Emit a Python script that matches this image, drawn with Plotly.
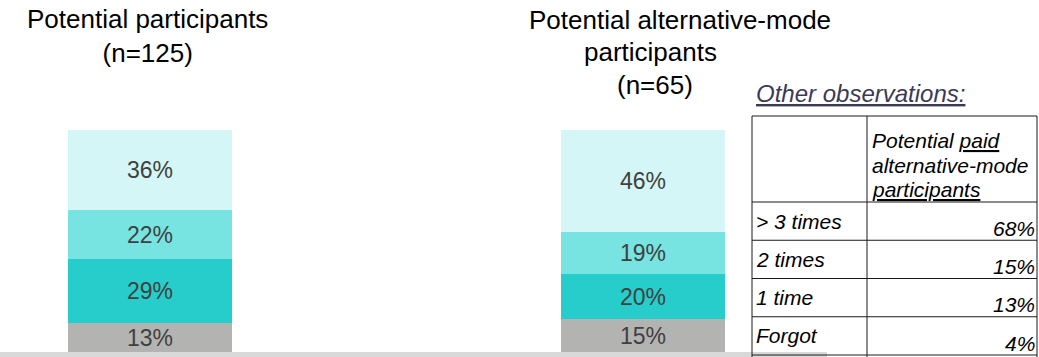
import plotly.graph_objects as go

# ---------------- data ----------------
groups = ["Potential participants", "Potential alternative-mode participants"]
segment_names = ["Forgot", "1 time", "2 times", "> 3 times"]  # bottom -> top
participants_vals = [13, 29, 22, 36]
alt_mode_vals = [15, 20, 19, 46]
segment_colors = ["#B3B4B2", "#26CDCA", "#77E4E2", "#D4F6F6"]

table_rows = ["> 3 times", "2 times", "1 time", "Forgot"]
table_vals = [68, 15, 13, 4]

W, H = 1039, 357
FONT = "Liberation Sans, Arial, sans-serif"

def px(x):
    return x / W

def py(y):
    return 1 - y / H

fig = go.Figure()
for i, name in enumerate(segment_names):
    vals = [participants_vals[i], alt_mode_vals[i]]
    fig.add_trace(go.Bar(
        x=[0, 1], y=vals, name=name,
        marker=dict(color=segment_colors[i], line=dict(width=0)),
        width=0.333,
        text=[f"{v}%" for v in vals],
        textposition="inside", insidetextanchor="middle", textangle=0,
        textfont=dict(family=FONT, size=23, color="#404040"),
        hoverinfo="skip", showlegend=False,
    ))

# pixel-based ranges: category 0 centred at x=150, 1 at x=643; y 0 at 352px, 100 at 130px
k_x = 493.0
x0 = -150 / k_x
x1 = x0 + W / k_x
k_y = 2.22
y0 = -(H - 352) / k_y
y1 = y0 + H / k_y

fig.update_layout(
    barmode="stack", bargap=0,
    width=W, height=H,
    margin=dict(l=0, r=0, t=0, b=0),
    paper_bgcolor="white", plot_bgcolor="white",
    xaxis=dict(range=[x0, x1], visible=False, domain=[0, 1]),
    yaxis=dict(range=[y0, y1], visible=False, domain=[0, 1]),
    uniformtext=dict(minsize=23, mode="show"),
    font=dict(family=FONT),
)

shapes = []
# bottom light gray band
shapes.append(dict(type="rect", xref="paper", yref="paper",
                   x0=0, x1=px(827), y0=py(357), y1=py(352),
                   fillcolor="#D9D9D9", line=dict(width=0), layer="below"))

annotations = []
# titles
annotations.append(dict(xref="paper", yref="paper", x=px(147), y=py(36),
                        text="Potential participants<br>(n=125)", showarrow=False,
                        xanchor="center", yanchor="middle", align="center",
                        font=dict(family=FONT, size=26, color="#000000")))
title2_lines = [("Potential alternative-mode", 527, 20),
                ("participants", 582, 52),
                ("(n=65)", 615, 85)]
for t, xl, yc in title2_lines:
    annotations.append(dict(xref="paper", yref="paper", x=px(xl), y=py(yc),
                            text=t, showarrow=False, xanchor="left", yanchor="middle",
                            font=dict(family=FONT, size=26, color="#000000")))

annotations.append(dict(xref="paper", yref="paper", x=px(754), y=py(94),
                        text="<i><u>Other observations:</u></i>", showarrow=False,
                        xanchor="left", yanchor="middle",
                        font=dict(family=FONT, size=24, color="#3B3A55")))

# table
t_left, t_mid, t_right = 752, 867, 1037
t_top, t_head = 116, 202
row_h = (355 - t_head) / len(table_rows)
line_c = "#1A1A1A"

def hline(y, xa=t_left, xb=t_right):
    shapes.append(dict(type="line", xref="paper", yref="paper",
                       x0=px(xa), x1=px(xb), y0=py(y), y1=py(y),
                       line=dict(color=line_c, width=1)))

def vline(x, ya, yb):
    shapes.append(dict(type="line", xref="paper", yref="paper",
                       x0=px(x), x1=px(x), y0=py(ya), y1=py(yb),
                       line=dict(color=line_c, width=1)))

hline(t_top)
hline(t_head)
for r in range(len(table_rows)):
    hline(t_head + row_h * (r + 1))
vline(t_left, t_top, 357)
vline(t_mid, t_top, 357)
vline(t_right, t_top, 357)

TFS = 21
header_lines = ["Potential <u>paid</u>", "alternative-mode", "<u>participants</u>"]
for j, t in enumerate(header_lines):
    annotations.append(dict(xref="paper", yref="paper", x=px(870), y=py(141 + 24 * j),
                            text=f"<i>{t}</i>", showarrow=False,
                            xanchor="left", yanchor="middle",
                            font=dict(family=FONT, size=TFS, color="#000000")))

for r, (lab, v) in enumerate(zip(table_rows, table_vals)):
    top = t_head + row_h * r
    bot = top + row_h
    annotations.append(dict(xref="paper", yref="paper", x=px(754), y=py(top + 19),
                            text=f"<i>{lab}</i>", showarrow=False,
                            xanchor="left", yanchor="middle",
                            font=dict(family=FONT, size=TFS, color="#000000")))
    annotations.append(dict(xref="paper", yref="paper", x=px(1037), y=py(bot - 12),
                            text=f"<i>{v}%</i>", showarrow=False,
                            xanchor="right", yanchor="middle",
                            font=dict(family=FONT, size=TFS, color="#000000")))

fig.update_layout(shapes=shapes, annotations=annotations)
fig.write_html("out.html", config={"displayModeBar": False},
               post_script="document.body.style.margin='0';document.body.style.overflow='hidden';")
